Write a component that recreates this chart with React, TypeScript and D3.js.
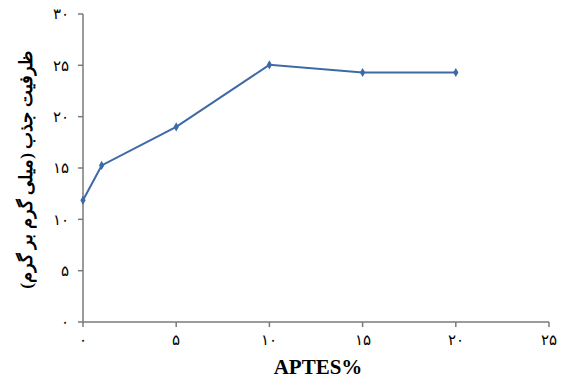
import React from "react";
import * as d3 from "d3";

const xValues = [0, 1, 5, 10, 15, 20];
const yValues = [11.85, 15.25, 19.0, 25.05, 24.3, 24.3];
const xTicks = [0, 5, 10, 15, 20, 25];
const yTicks = [0, 5, 10, 15, 20, 25, 30];
const xTitle = "APTES%";
const yTitle = "ظرفیت جذب (میلی گرم بر گرم)";

const toPersian = (n: number) =>
  String(n).replace(/[0-9]/g, (d) => "۰۱۲۳۴۵۶۷۸۹"[+d]);

export default function App() {
  const W = 562, H = 378;
  const left = 83, right = 549, top = 14, bottom = 322;
  const x = d3.scaleLinear().domain([0, 25]).range([left, right]);
  const y = d3.scaleLinear().domain([0, 30]).range([bottom, top]);
  const line = d3.line<number>().x((_, i) => x(xValues[i])).y((d) => y(d));
  const axisColor = "#7a7a7a";
  const lineColor = "#3d6aa6";
  const font = "'Liberation Serif', 'DejaVu Serif', serif";
  return (
    <svg width={W} height={H} style={{ position: "absolute", left: 0, top: 0, background: "#fff" }}>
      <line x1={left} x2={left} y1={top} y2={bottom} stroke={axisColor} strokeWidth={1.5} />
      <line x1={left} x2={right} y1={bottom} y2={bottom} stroke={axisColor} strokeWidth={1.5} />
      {yTicks.map((t) => (
        <g key={"y" + t}>
          <line x1={left - 5} x2={left} y1={y(t)} y2={y(t)} stroke={axisColor} strokeWidth={1.5} />
          <text x={left - 14} y={y(t)} dy="0.35em" textAnchor="end" fontFamily={font} fontSize={15} fill="#000">
            {toPersian(t)}
          </text>
        </g>
      ))}
      {xTicks.map((t) => (
        <g key={"x" + t}>
          <line x1={x(t)} x2={x(t)} y1={bottom} y2={bottom + 5} stroke={axisColor} strokeWidth={1.5} />
          <text x={x(t)} y={bottom + 23} textAnchor="middle" fontFamily={font} fontSize={15} fill="#000">
            {toPersian(t)}
          </text>
        </g>
      ))}
      <path d={line(yValues) || ""} fill="none" stroke={lineColor} strokeWidth={2} />
      {yValues.map((v, i) => (
        <path
          key={"m" + i}
          d={d3.symbol(d3.symbolDiamond, 24)() || ""}
          transform={`translate(${x(xValues[i])},${y(v)})`}
          fill={lineColor}
        />
      ))}
      <text x={318} y={374} textAnchor="middle" fontFamily={font} fontWeight="bold" fontSize={21} fill="#000">
        {xTitle}
      </text>
      <text
        transform={`translate(26,170) rotate(-90)`}
        textAnchor="middle"
        dy="0.35em"
        fontFamily={font}
        fontWeight="bold"
        fontSize={17.5}
        fill="#000"
        direction="rtl"
      >
        {yTitle}
      </text>
    </svg>
  );
}
